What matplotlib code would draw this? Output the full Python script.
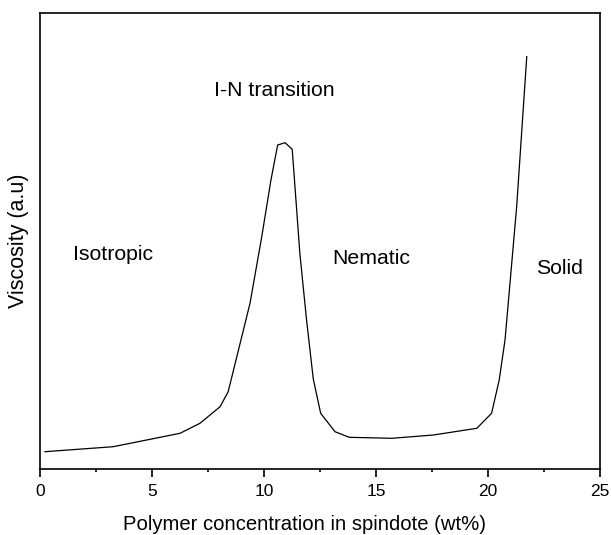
import numpy as np
import matplotlib.pyplot as plt
from matplotlib.ticker import MultipleLocator

plt.rcParams['font.family'] = ['Liberation Sans', 'DejaVu Sans']

# concentration (wt%) and viscosity (arbitrary units)
conc = [0.22, 3.27, 6.25, 7.14, 8.04, 8.4, 8.53, 9.375, 9.9, 10.31, 10.61, 10.94,
        11.26, 11.6, 11.9, 12.2, 12.53, 13.17, 13.8, 15.7, 17.56, 19.5, 20.16,
        20.5, 20.76, 21.28, 21.73]
visc = [17.3, 22.3, 35.7, 45.7, 62.3, 77.3, 89.0, 165.7, 232.3, 289.0, 324.0, 326.3,
        319.7, 215.7, 149.0, 90.0, 55.7, 37.3, 31.7, 30.7, 34.0, 40.7, 55.7,
        89.0, 129.0, 262.3, 412.3]

# phase labels
phases = ["Isotropic", "I-N transition", "Nematic", "Solid"]
phase_x = [3.27, 10.45, 14.8, 23.2]
phase_y = [214, 379, 211, 201]

fig = plt.figure(figsize=(6.11, 5.35), dpi=100)
ax = fig.add_axes([40/611, 1 - 469/535, 560/611, 456/535])

ax.plot(conc, visc, color='black', linewidth=0.9)

for name, px, py in zip(phases, phase_x, phase_y):
    ax.text(px, py, name, ha='center', va='center', fontsize=15.3)

ax.set_xlim(0, 25)
ax.set_ylim(0, 456)
ax.xaxis.set_major_locator(MultipleLocator(5))
ax.xaxis.set_minor_locator(MultipleLocator(2.5))
ax.tick_params(axis='x', which='major', direction='out', length=5.5, width=1.2,
               labelsize=12.5, pad=5)
ax.tick_params(axis='x', which='minor', direction='out', length=2.5, width=1.2)
ax.set_yticks([])
for s in ax.spines.values():
    s.set_linewidth(1.2)

ax.set_xlabel("Polymer concentration in spindote (wt%)", fontsize=14.6, labelpad=12)
ax.xaxis.label.set_x(0.473)
ax.set_ylabel("Viscosity (a.u)", fontsize=15.5, labelpad=8)

plt.savefig("out.png", dpi=100)
